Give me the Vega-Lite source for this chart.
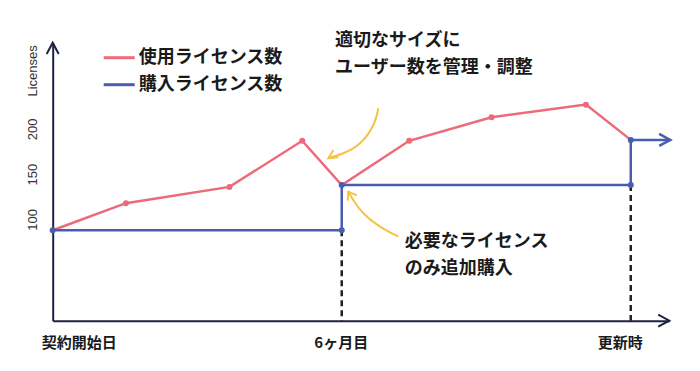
{
  "$schema": "https://vega.github.io/schema/vega-lite/v6.json",
  "width": 616.6,
  "height": 278,
  "autosize": {"type": "none"},
  "padding": {"left": 52.7, "top": 42.7, "right": 30.7, "bottom": 50.3},
  "background": "white",
  "config": {"view": {"stroke": null}, "font": "Noto Sans CJK JP"},
  "datasets": {
    "series": [
      {"s": "使用ライセンス数", "m": 0, "v": 100, "o": 0, "dot": false},
      {"s": "使用ライセンス数", "m": 1.52, "v": 130, "o": 1, "dot": true},
      {"s": "使用ライセンス数", "m": 3.67, "v": 148, "o": 2, "dot": true},
      {"s": "使用ライセンス数", "m": 5.18, "v": 199, "o": 3, "dot": true},
      {"s": "使用ライセンス数", "m": 6, "v": 150, "o": 4, "dot": false},
      {"s": "使用ライセンス数", "m": 7.4, "v": 199, "o": 5, "dot": true},
      {"s": "使用ライセンス数", "m": 9.11, "v": 225, "o": 6, "dot": true},
      {"s": "使用ライセンス数", "m": 11.07, "v": 239, "o": 7, "dot": true},
      {"s": "使用ライセンス数", "m": 12, "v": 200, "o": 8, "dot": false},
      {"s": "購入ライセンス数", "m": 0, "v": 100, "o": 0, "dot": true},
      {"s": "購入ライセンス数", "m": 6, "v": 100, "o": 1, "dot": true},
      {"s": "購入ライセンス数", "m": 6, "v": 150, "o": 2, "dot": true},
      {"s": "購入ライセンス数", "m": 12, "v": 150, "o": 3, "dot": true},
      {"s": "購入ライセンス数", "m": 12, "v": 200, "o": 4, "dot": true},
      {"s": "購入ライセンス数", "m": 12.82, "v": 200, "o": 5, "dot": false}
    ],
    "drops": [
      {"m": 6, "v": 100},
      {"m": 12, "v": 150}
    ],
    "curves": [
      {"g": "c1", "m": 6.759, "v": 235, "o": 0},
      {"g": "c1", "m": 6.656, "v": 216.5, "o": 1},
      {"g": "c1", "m": 6.379, "v": 196.2, "o": 2},
      {"g": "c1", "m": 6.033, "v": 185.2, "o": 3},
      {"g": "c1", "m": 5.721, "v": 179.6, "o": 4},
      {"g": "c2", "m": 7.175, "v": 92.9, "o": 0},
      {"g": "c2", "m": 6.795, "v": 104, "o": 1},
      {"g": "c2", "m": 6.448, "v": 118.8, "o": 2},
      {"g": "c2", "m": 6.24, "v": 133.5, "o": 3},
      {"g": "c2", "m": 6.137, "v": 142.7, "o": 4}
    ],
    "heads": [
      {"k": "axis", "g": "ya", "m": -0.125, "v": 295, "o": 0},
      {"k": "axis", "g": "ya", "m": 0, "v": 307.5, "o": 1},
      {"k": "axis", "g": "ya", "m": 0.125, "v": 295, "o": 2},
      {"k": "axis", "g": "xa", "m": 12.57, "v": 6.6, "o": 0},
      {"k": "axis", "g": "xa", "m": 12.8, "v": 0, "o": 1},
      {"k": "axis", "g": "xa", "m": 12.57, "v": -6.6, "o": 2},
      {"k": "blue", "g": "ba", "m": 12.59, "v": 206.6, "o": 0},
      {"k": "blue", "g": "ba", "m": 12.82, "v": 200, "o": 1},
      {"k": "blue", "g": "ba", "m": 12.59, "v": 193.4, "o": 2},
      {"k": "note", "g": "h1", "m": 5.829, "v": 188.8, "o": 0},
      {"k": "note", "g": "h1", "m": 5.721, "v": 179.6, "o": 1},
      {"k": "note", "g": "h1", "m": 5.929, "v": 180.8, "o": 2},
      {"k": "note", "g": "h2", "m": 6.123, "v": 132.7, "o": 0},
      {"k": "note", "g": "h2", "m": 6.137, "v": 142.7, "o": 1},
      {"k": "note", "g": "h2", "m": 6.313, "v": 138.6, "o": 2}
    ],
    "notes": [
      {"t": "適切なサイズに", "m": 5.86, "v": 309},
      {"t": "ユーザー数を管理・調整", "m": 5.86, "v": 279},
      {"t": "必要なライセンス", "m": 7.31, "v": 87.6},
      {"t": "のみ追加購入", "m": 7.31, "v": 57.7}
    ]
  },
  "encoding": {
    "x": {
      "field": "m",
      "type": "quantitative",
      "scale": {"domain": [0, 12.8], "nice": false, "zero": false},
      "axis": {
        "values": [0, 6, 12],
        "labelExpr": "datum.value == 0 ? '契約開始日' : datum.value == 6 ? '6ヶ月目' : '更新時'",
        "ticks": false,
        "grid": false,
        "domainColor": "#1e2245",
        "domainWidth": 2,
        "labelFont": "Noto Sans CJK JP",
        "labelFontSize": 15,
        "labelFontWeight": "bold",
        "labelColor": "#1a1a1a",
        "labelPadding": 15,
        "labelFlush": false,
        "labelAngle": 0,
        "labelAlign": "center",
        "labelOffset": {"condition": [{"test": "datum.value == 0", "value": 26}, {"test": "datum.value == 12", "value": -11}], "value": -1},
        "title": null
      }
    },
    "y": {
      "field": "v",
      "type": "quantitative",
      "scale": {"domain": [0, 307.5], "nice": false, "zero": false},
      "axis": {
        "values": [100, 150, 200],
        "ticks": false,
        "grid": false,
        "domainColor": "#1e2245",
        "domainWidth": 2,
        "labelAngle": -90,
        "labelAlign": "center",
        "labelBaseline": "bottom",
        "labelFont": "Liberation Sans",
        "labelFontSize": 13,
        "labelColor": "#333333",
        "labelPadding": 13,
        "labelOffset": -11,
        "title": "Licenses",
        "titleFont": "Liberation Sans",
        "titleFontSize": 13,
        "titleFontWeight": "normal",
        "titleColor": "#333333",
        "titleAngle": -90,
        "titleAnchor": "end",
        "titleAlign": "right",
        "titleBaseline": "bottom",
        "titleX": -13,
        "titleY": 2
      }
    }
  },
  "layer": [
    {
      "data": {"name": "drops"},
      "mark": {"type": "rule", "color": "#222222", "strokeWidth": 2.5, "strokeDash": [6, 4]},
      "encoding": {"y2": {"datum": 0}}
    },
    {
      "data": {"name": "series"},
      "mark": {"type": "line", "strokeWidth": 2.5},
      "encoding": {
        "order": {"field": "o", "type": "quantitative"},
        "color": {
          "field": "s",
          "type": "nominal",
          "scale": {"domain": ["使用ライセンス数", "購入ライセンス数"], "range": ["#ec6a7a", "#4a5cb0"]},
          "legend": {
            "title": null,
            "orient": "none",
            "legendX": 57,
            "legendY": 5.5,
            "padding": 0,
            "offset": 0,
            "symbolType": "M-2,0H2",
            "symbolSize": 240,
            "symbolStrokeWidth": 3,
            "labelFont": "Noto Sans CJK JP",
            "labelFontSize": 18,
            "labelFontWeight": "bold",
            "labelColor": "#1a1a1a",
            "labelOffset": 10,
            "rowPadding": 8
          }
        }
      }
    },
    {
      "data": {"name": "series"},
      "transform": [{"filter": "datum.dot"}],
      "mark": {"type": "point", "filled": true, "size": 36, "opacity": 1},
      "encoding": {
        "color": {"field": "s", "type": "nominal", "legend": null}
      }
    },
    {
      "data": {"name": "curves"},
      "mark": {"type": "line", "color": "#f6c244", "strokeWidth": 2, "interpolate": "natural"},
      "encoding": {
        "detail": {"field": "g", "type": "nominal"},
        "order": {"field": "o", "type": "quantitative"}
      }
    },
    {
      "data": {"name": "heads"},
      "transform": [{"filter": "datum.k == 'note'"}],
      "mark": {"type": "line", "color": "#f6c244", "strokeWidth": 2},
      "encoding": {
        "detail": {"field": "g", "type": "nominal"},
        "order": {"field": "o", "type": "quantitative"}
      }
    },
    {
      "data": {"name": "heads"},
      "transform": [{"filter": "datum.k == 'axis'"}],
      "mark": {"type": "line", "color": "#1e2245", "strokeWidth": 2},
      "encoding": {
        "detail": {"field": "g", "type": "nominal"},
        "order": {"field": "o", "type": "quantitative"}
      }
    },
    {
      "data": {"name": "heads"},
      "transform": [{"filter": "datum.k == 'blue'"}],
      "mark": {"type": "line", "color": "#4a5cb0", "strokeWidth": 2.5},
      "encoding": {
        "detail": {"field": "g", "type": "nominal"},
        "order": {"field": "o", "type": "quantitative"}
      }
    },
    {
      "data": {"name": "notes"},
      "mark": {"type": "text", "align": "left", "baseline": "middle", "font": "Noto Sans CJK JP", "fontSize": 18, "fontWeight": "bold", "color": "#1a1a1a"},
      "encoding": {"text": {"field": "t", "type": "nominal"}}
    }
  ]
}
